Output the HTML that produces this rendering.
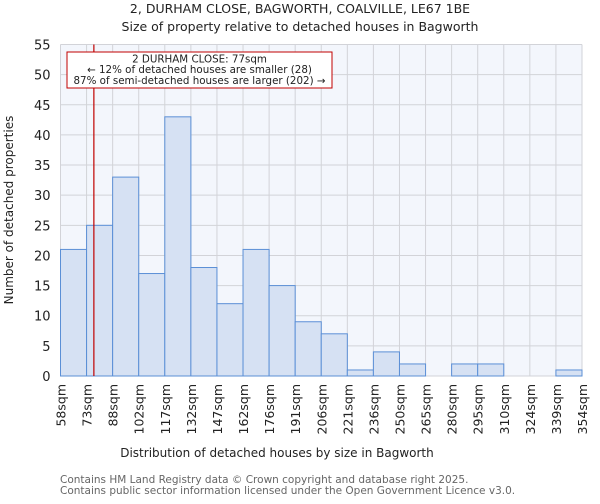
<!DOCTYPE html>
<html><head><meta charset="utf-8"><style>
body{margin:0;background:#fff;font-family:"DejaVu Sans","Liberation Sans",sans-serif}
svg text{font-family:"DejaVu Sans","Liberation Sans",sans-serif}
</style></head><body>
<svg id="c" width="600" height="500" xmlns="http://www.w3.org/2000/svg">
<text x="300" y="13" text-anchor="middle" font-size="12.5" fill="#222">2, DURHAM CLOSE, BAGWORTH, COALVILLE, LE67 1BE</text>
<text x="300" y="31" text-anchor="middle" font-size="12.5" fill="#222">Size of property relative to detached houses in Bagworth</text>
<g id="plot"></g>
<text x="277" y="457" text-anchor="middle" font-size="12" fill="#222">Distribution of detached houses by size in Bagworth</text>
<text transform="translate(13,210) rotate(-90)" text-anchor="middle" font-size="12" fill="#222">Number of detached properties</text>
<text x="60" y="483" font-size="10.5" fill="#666">Contains HM Land Registry data © Crown copyright and database right 2025.</text>
<text x="60" y="494" font-size="10.5" fill="#666">Contains public sector information licensed under the Open Government Licence v3.0.</text>
</svg>
<script>
const binLabels=["58sqm","73sqm","88sqm","102sqm","117sqm","132sqm","147sqm","162sqm","176sqm","191sqm","206sqm","221sqm","236sqm","250sqm","265sqm","280sqm","295sqm","310sqm","324sqm","339sqm","354sqm"];
const counts=[21,25,33,17,43,18,12,21,15,9,7,1,4,2,0,2,2,0,0,1];
const yTicks=[0,5,10,15,20,25,30,35,40,45,50,55];
const propertyIndex=1.28;
const X0=60.5,X1=582,Y0=376,Y1=44.5,YMAX=55;
const bw=(X1-X0)/counts.length;
const xs=i=>X0+i*bw;
const ys=v=>Y0-(Y0-Y1)*v/YMAX;
const NS="http://www.w3.org/2000/svg";
const g=document.getElementById('plot');
function mk(t,a){const e=document.createElementNS(NS,t);for(const k in a)e.setAttribute(k,a[k]);g.appendChild(e);return e;}
let bg=mk('rect',{x:X0,y:Y1,width:X1-X0,height:Y0-Y1,fill:'#f3f6fc'});


yTicks.forEach(v=>{
 let l=mk('line',{x1:X0,x2:X1,y1:ys(v),y2:ys(v),stroke:'#d2d3d8','stroke-width':1});
 
 
 let t=mk('text',{x:X0-10,y:ys(v)+5,'text-anchor':'end','font-size':13,fill:'#222'});
 t.textContent=v;
 
 
});
binLabels.forEach((s,i)=>{
 let l=mk('line',{x1:xs(i),x2:xs(i),y1:Y1,y2:Y0,stroke:'#d2d3d8','stroke-width':1});
 
 
 let t=mk('text',{transform:`translate(${xs(i)+5},384) rotate(-90)`,'text-anchor':'end','font-size':12.5,fill:'#222'});
 t.textContent=s;
 
 
});
counts.forEach((c,i)=>{
 if(c<=0)return;
 let r=mk('rect',{x:xs(i),y:ys(c),width:bw,height:Y0-ys(c),fill:'#d6e1f3',stroke:'#5b8fd6','stroke-width':1});
 
 
});
const px=xs(propertyIndex);
let pl=mk('line',{x1:px,x2:px,y1:Y1,y2:Y0,stroke:'#c00000','stroke-width':1.2});


let box=mk('rect',{x:67,y:52,width:265,height:36,fill:'#fff',stroke:'#c00000','stroke-width':1});


["2 DURHAM CLOSE: 77sqm","← 12% of detached houses are smaller (28)","87% of semi-detached houses are larger (202) →"].forEach((s,i)=>{
 let t=mk('text',{x:199.5,y:62.5+i*10.7,'text-anchor':'middle','font-size':10.3,fill:'#222'});
 t.textContent=s;
 
 
});
</script>
</body></html>
